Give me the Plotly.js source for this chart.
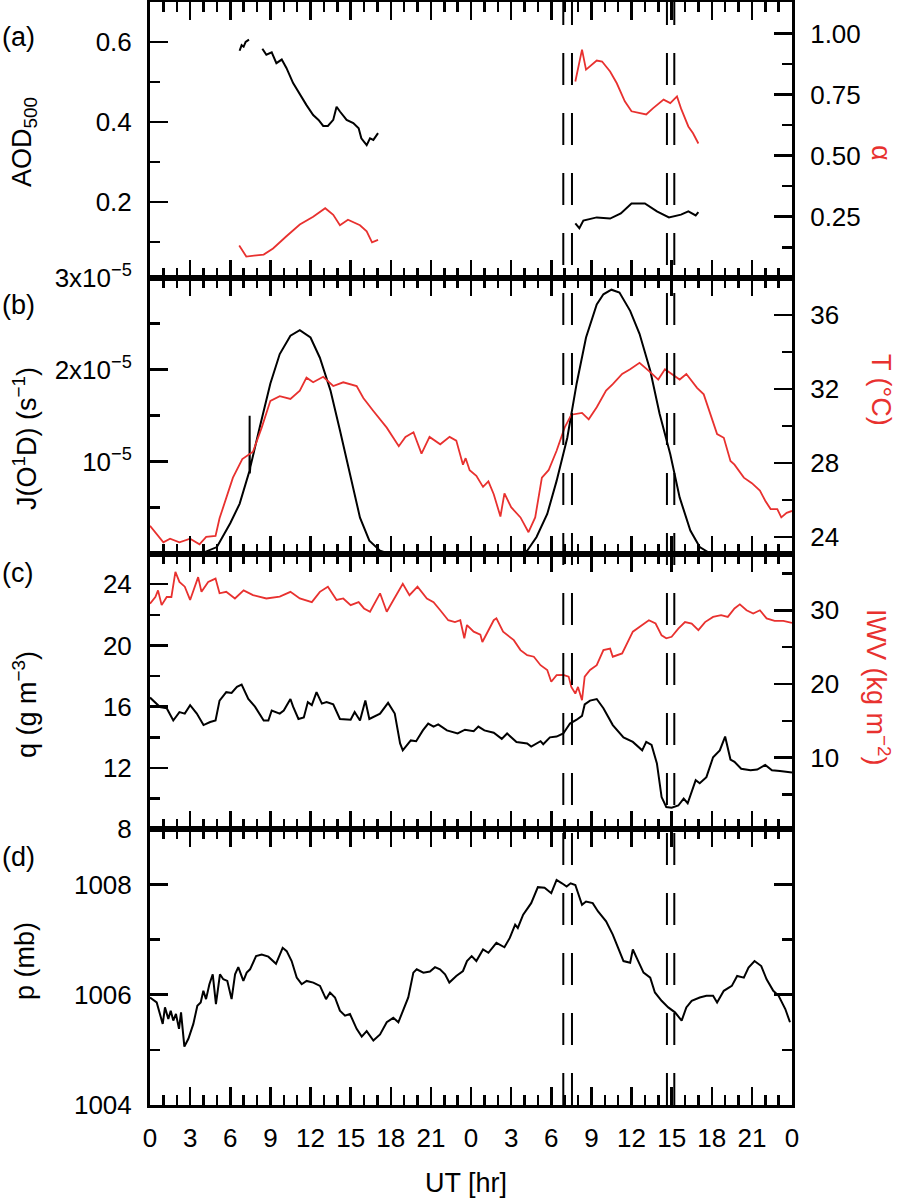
<!DOCTYPE html>
<html>
<head>
<meta charset="utf-8">
<script src="https://cdn.plot.ly/plotly-3.0.1.min.js"></script>
<style>
  html, body { margin: 0; padding: 0; background: #fff; }
  #chart { width: 897px; height: 1199px; }
</style>
</head>
<body>
<div id="chart"></div>
<script>
// ---- x axis: two days of UT hours ----
const hourTicks = [0, 3, 6, 9, 12, 15, 18, 21, 24, 27, 30, 33, 36, 39, 42, 45, 48];
const hourLabels = ['0', '3', '6', '9', '12', '15', '18', '21', '0', '3', '6', '9', '12', '15', '18', '21', '0'];
const eventTimes = [30.9, 31.55, 38.65, 39.2];

// ---- (a) AOD500 and Angstrom exponent ----
const aodHrA = [6.7, 6.85, 7.0, 7.15, 7.4];
const aodA = [0.578, 0.592, 0.588, 0.6, 0.606];
const aodHrB = [8.4, 8.7, 9.1, 9.45, 9.85, 10.2, 10.7, 11.2, 11.7, 12.2, 12.6, 12.95, 13.3, 13.7, 13.95, 14.2, 14.7, 15.2, 15.6, 15.8, 16.2, 16.45, 16.7, 17.05];
const aodB = [0.583, 0.568, 0.574, 0.547, 0.556, 0.535, 0.497, 0.468, 0.442, 0.417, 0.405, 0.39, 0.39, 0.405, 0.438, 0.426, 0.405, 0.397, 0.384, 0.359, 0.342, 0.359, 0.355, 0.372];
const aodHrC = [31.8, 32.1, 32.4, 33.4, 34.4, 35.2, 36.0, 37.0, 37.9, 38.8, 39.7, 40.25, 40.8, 41.0];
const aodC = [0.146, 0.134, 0.153, 0.161, 0.158, 0.171, 0.196, 0.196, 0.176, 0.161, 0.168, 0.176, 0.166, 0.174];

const alphaHrA = [6.67, 7.2, 8.5, 9.2, 10.2, 11.2, 12.2, 13.1, 13.7, 14.2, 14.8, 15.7, 16.2, 16.6, 17.05];
const alphaA = [0.132, 0.087, 0.095, 0.12, 0.17, 0.218, 0.25, 0.285, 0.258, 0.215, 0.238, 0.215, 0.19, 0.145, 0.155];
const alphaHrB = [31.8, 32.3, 32.6, 33.4, 33.8, 34.4, 34.9, 35.5, 36.0, 37.1, 37.6, 38.4, 38.9, 39.4, 39.7, 40.25, 40.6, 41.0];
const alphaB = [0.804, 0.935, 0.853, 0.89, 0.886, 0.845, 0.797, 0.723, 0.682, 0.669, 0.694, 0.73, 0.716, 0.743, 0.694, 0.62, 0.592, 0.55];

// ---- (b) J(O1D) in units of 1e-5 s-1, and temperature ----
const jHrA = [3.0, 4.0, 5.0, 6.0, 6.7, 7.44, 7.45, 7.46, 7.5, 8.2, 9.0, 9.7, 10.5, 11.2, 12.0, 12.7, 13.5, 14.2, 15.0, 15.7, 16.4, 17.2, 17.8, 18.5];
const jA = [0, 0.01, 0.07, 0.33, 0.54, 0.9, 1.5, 0.87, 0.94, 1.37, 1.85, 2.17, 2.37, 2.43, 2.35, 2.13, 1.77, 1.34, 0.83, 0.39, 0.14, 0.03, 0, 0];
const jHrB = [27.5, 28.2, 28.9, 29.7, 30.4, 31.2, 31.9, 32.6, 33.4, 33.9, 34.5, 35.1, 35.9, 36.6, 37.4, 38.1, 38.9, 39.6, 40.4, 41.1, 41.9, 42.5];
const jB = [0, 0.03, 0.18, 0.43, 0.79, 1.26, 1.85, 2.35, 2.71, 2.82, 2.87, 2.84, 2.64, 2.39, 1.99, 1.52, 1.08, 0.61, 0.25, 0.07, 0, 0];

const tempHr = [0, 1.0, 1.5, 2.2, 3.0, 3.7, 4.2, 4.9, 5.2, 5.7, 6.2, 6.9, 7.7, 8.35, 9.0, 9.7, 10.5, 11.2, 11.7, 12.2, 12.95, 13.7, 14.45, 15.45, 15.95, 16.7, 17.7, 18.6, 19.1, 19.7, 20.3, 20.9, 21.7, 22.4,
  22.9, 23.4, 23.6, 23.9, 24.4, 24.9, 25.3, 25.7, 26.2, 26.5, 27.0, 27.7, 28.3, 28.8, 29.3, 29.8, 30.4, 31.0, 31.5, 32.3, 32.8, 33.4, 34.1, 34.6, 35.3, 35.9, 36.6, 37.4, 38.0, 38.5, 39.0, 39.6, 40.1, 40.9, 41.4, 42.0, 42.4, 42.9, 43.4, 43.7, 44.4, 45.0, 45.6, 46.0, 46.4, 46.9, 47.2, 47.6, 48.0];
const temp = [24.6, 23.7, 23.9, 23.7, 23.9, 23.6, 24.0, 24.05, 25.0, 26.1, 27.2, 28.2, 28.6, 29.9, 31.35, 31.6, 31.45, 31.9, 32.6, 32.35, 32.65, 32.15, 32.35, 32.15, 31.5, 30.8, 29.9, 28.9, 29.4, 29.65, 28.5, 29.4, 29.0, 29.4,
  29.2, 27.9, 28.25, 27.6, 27.3, 26.7, 27.0, 26.3, 25.1, 26.35, 25.6, 25.05, 24.25, 25.05, 27.2, 27.6, 28.65, 29.9, 30.6, 30.7, 30.35, 31.0, 31.9, 32.25, 32.8, 33.05, 33.4, 32.9, 32.5, 33.05, 32.8, 32.5, 32.8, 32.05, 31.7, 30.45, 29.55, 29.35, 28.1, 27.9, 27.2, 26.9, 26.5, 25.95, 25.5, 25.5, 25.05, 25.3, 25.4];

// ---- (c) specific humidity and integrated water vapour ----
const qHr = [0, 0.75, 1.25, 1.74, 2.2, 2.6, 3.0, 3.5, 4.0, 4.5, 4.9, 5.2, 5.7, 6.1, 6.5, 6.85, 7.35, 7.85, 8.5, 8.85, 9.1, 9.7, 10.0, 10.5, 10.7, 11.1, 11.5, 11.8, 12.1, 12.45, 12.85, 13.2, 13.7, 14.2, 15.0, 15.3, 15.7, 16.1, 16.4, 17.2, 17.8, 18.3, 18.7, 18.9, 19.5, 19.9, 20.4, 20.8, 21.2, 21.55, 22.2,
  23.0, 23.55, 24.2, 24.55, 25.0, 25.7, 26.3, 26.7, 27.4, 28.2, 28.5, 29.2, 29.4, 29.9, 30.4, 30.9, 31.4, 31.9, 32.3, 32.5, 32.9, 33.4, 33.9, 34.6, 35.4, 36.1, 36.8, 37.1, 37.5, 37.9, 38.25, 38.6, 39.0, 39.5, 39.9, 40.2, 40.5, 40.8, 41.1, 41.6, 42.1, 42.6, 43.0, 43.4, 43.7, 44.2, 44.9, 45.4, 46.0, 46.5, 47.1, 48.0];
const q = [16.6, 15.98, 15.9, 15.1, 15.65, 15.55, 16.1, 15.55, 14.8, 15.0, 15.1, 16.4, 16.95, 16.9, 17.3, 17.45, 16.5, 16.0, 15.1, 15.1, 15.75, 15.55, 15.75, 16.5, 16.0, 15.2, 15.3, 16.3, 16.1, 16.95, 16.2, 16.3, 16.15, 15.2, 15.15, 15.65, 15.1, 16.4, 15.2, 15.55, 16.25, 15.55, 13.6, 13.15, 13.8, 13.75, 14.45, 14.9, 14.7, 14.85, 14.45,
  14.25, 14.5, 14.4, 14.7, 14.45, 14.3, 13.9, 14.25, 13.7, 13.6, 13.4, 13.75, 13.55, 14.0, 14.05, 14.25, 14.9, 15.15, 15.4, 16.15, 16.4, 16.5, 15.9, 14.8, 14.0, 13.7, 13.15, 13.7, 13.5, 12.3, 10.1, 9.45, 9.4, 9.55, 10.0, 9.7, 10.45, 11.2, 11.0, 11.4, 12.7, 13.15, 14.05, 12.55, 12.4, 11.95, 11.85, 11.9, 12.2, 11.85, 11.8, 11.7];

const iwvHr = [0, 0.4, 0.6, 0.87, 1.25, 1.6, 1.9, 2.2, 2.6, 3.0, 3.6, 3.85, 4.35, 4.9, 5.2, 5.7, 6.35, 7.0, 7.7, 8.7, 9.7, 10.5, 11.2, 12.1, 12.7, 13.3, 13.95, 14.45, 15.0, 15.6, 16.0, 16.45, 17.2, 17.7, 18.2, 18.9, 19.4, 20.0, 20.7, 21.2, 21.7, 22.3,
  22.8, 23.2, 23.5, 23.7, 24.2, 24.7, 24.85, 25.3, 25.7, 25.9, 26.4, 27.2, 27.7, 28.2, 28.7, 29.2, 29.7, 30.0, 30.4, 30.9, 31.3, 31.5, 31.8, 32.0, 32.3, 32.5, 32.9, 33.4, 33.9, 34.4, 34.6, 35.3, 35.6, 36.1, 36.8, 37.3, 37.8, 38.25, 38.6, 39.0, 39.5, 40.0, 40.5, 41.0, 41.5, 42.1, 42.7, 43.2, 43.7, 44.1, 44.6, 45.1, 45.6, 46.1, 46.7, 47.35, 48.0];
const iwv = [30.9, 31.8, 32.7, 30.7, 31.8, 31.8, 35.2, 33.85, 33.2, 31.4, 34.5, 32.5, 33.85, 34.3, 32.3, 32.5, 31.6, 32.7, 32.05, 31.6, 31.85, 32.5, 31.6, 31.1, 32.5, 33.2, 31.4, 31.6, 30.7, 31.1, 30.25, 29.8, 32.3, 29.8, 31.4, 33.6, 32.05, 33.2, 31.6, 31.1, 30.0, 28.65,
  28.4, 28.65, 26.2, 28.0, 27.1, 26.7, 25.7, 27.3, 28.65, 28.9, 27.1, 25.95, 24.6, 23.9, 23.7, 22.55, 21.9, 20.3, 21.2, 21.25, 21.0, 19.6, 18.7, 19.6, 17.8, 21.0, 21.9, 22.55, 24.6, 24.8, 23.7, 24.15, 25.3, 27.1, 28.0, 28.65, 28.2, 26.6, 26.2, 26.4, 27.5, 28.4, 28.2, 27.3, 28.4, 29.1, 29.35, 29.1, 30.25, 30.8, 30.0, 29.55, 30.0, 28.9, 28.55, 28.55, 28.3];

// ---- (d) surface pressure ----
const presHr = [0, 0.5, 0.95, 1.12, 1.37, 1.55, 1.74, 1.94, 2.17, 2.32, 2.57, 2.87, 3.24, 3.54, 3.79, 3.99, 4.19, 4.44, 4.69, 4.93, 5.23, 5.48, 5.78, 6.1, 6.36, 6.6, 6.98, 7.23, 7.48, 7.93, 8.35, 8.85, 9.42, 9.92, 10.22, 10.59, 10.97, 11.34, 11.71, 12.21, 12.71, 13.16, 13.46, 13.83, 14.2, 14.58, 14.95, 15.45, 15.83, 16.2, 16.7, 17.2, 17.7, 18.19, 18.57, 18.94, 19.31, 19.69, 19.94, 20.44, 20.93, 21.31, 21.68, 22.06, 22.38,
  22.9, 23.4, 23.7, 24.05, 24.4, 24.9, 25.3, 25.9, 26.5, 26.9, 27.3, 27.5, 27.9, 28.5, 29.0, 29.5, 30.0, 30.4, 30.8, 31.15, 31.45, 31.8, 32.3, 32.6, 33.1, 33.5, 34.1, 34.6, 35.0, 35.4, 35.9, 36.1, 36.5, 36.9, 37.4, 37.75, 38.25, 38.75, 39.25, 39.75, 40.1, 40.5, 41.1, 41.6, 42.1, 42.4, 42.9, 43.5, 43.9, 44.4, 44.75, 45.2, 45.7, 46.1, 46.6, 47.0, 47.5, 47.85];
const pres = [1005.95, 1005.86, 1005.47, 1005.77, 1005.56, 1005.71, 1005.53, 1005.65, 1005.38, 1005.68, 1005.06, 1005.2, 1005.47, 1005.8, 1005.86, 1006.07, 1005.92, 1006.19, 1006.37, 1005.83, 1006.37, 1006.28, 1006.25, 1005.92, 1006.37, 1006.5, 1006.25, 1006.4, 1006.46, 1006.7, 1006.73, 1006.69, 1006.56, 1006.85, 1006.79, 1006.61, 1006.31, 1006.19, 1006.25, 1006.22, 1006.16, 1005.92, 1006.04, 1005.95, 1005.71, 1005.62, 1005.65, 1005.38, 1005.24, 1005.34, 1005.17, 1005.28, 1005.5, 1005.58, 1005.5, 1005.71, 1005.95, 1006.4, 1006.46, 1006.4, 1006.42, 1006.5, 1006.46, 1006.37, 1006.22,
  1006.34, 1006.43, 1006.61, 1006.7, 1006.61, 1006.82, 1006.76, 1006.94, 1006.86, 1007.03, 1007.27, 1007.21, 1007.45, 1007.66, 1007.95, 1007.94, 1007.84, 1008.08, 1008.02, 1007.96, 1008.02, 1007.99, 1007.63, 1007.69, 1007.66, 1007.51, 1007.33, 1007.09, 1006.85, 1006.61, 1006.58, 1006.82, 1006.61, 1006.4, 1006.31, 1006.04, 1005.89, 1005.77, 1005.68, 1005.53, 1005.77, 1005.89, 1005.95, 1005.98, 1005.98, 1005.86, 1006.07, 1006.16, 1006.34, 1006.31, 1006.49, 1006.61, 1006.52, 1006.28, 1006.07, 1005.98, 1005.74, 1005.5];

// ---------------------------------------------------------
const RED = '#e8312f';
const FONT = 'Liberation Sans, Arial, Helvetica, sans-serif';
const W = 897, H = 1199;
const M = { l: 150, r: 105, t: 2, b: 94 };

// pixel -> paper helpers for text placement
function px(x) { return (x - M.l) / (W - M.l - M.r); }
function py(y) { return (H - M.b - y) / (H - M.t - M.b); }

function line(x, y, xa, ya, color, width) {
  return { x, y, xaxis: xa, yaxis: ya, mode: 'lines', line: { color, width },
           showlegend: false, hoverinfo: 'skip' };
}

const tickStyle = { ticks: 'inside', ticklen: 18, tickwidth: 2.5, tickcolor: '#000' };
const minorStyle = { ticks: 'inside', ticklen: 10, tickwidth: 2.5, tickcolor: '#000' };

function xAxis(i) {
  const ax = Object.assign({
    anchor: 'y' + (i === 1 ? '' : i), domain: [0, 1], range: [0, 48],
    tickmode: 'array', tickvals: hourTicks, ticktext: hourLabels,
    showticklabels: i === 4, ticklabelstandoff: 8,
    minor: Object.assign({ tickmode: 'linear', tick0: 0, dtick: 1 }, minorStyle),
    showline: true, linewidth: 3, linecolor: '#000', mirror: 'ticks',
    showgrid: false, zeroline: false, fixedrange: true
  }, tickStyle);
  if (i > 1) ax.matches = 'x';
  return ax;
}

function yAxis(i, range, vals, text, minorVals, fmt, side) {
  const ax = Object.assign({
    anchor: 'x' + (i === 1 ? '' : i), range,
    tickmode: 'array', tickvals: vals, ticklabelstandoff: 10,
    minor: Object.assign({ tickmode: 'array', tickvals: minorVals }, minorStyle),
    showline: true, linewidth: 3, linecolor: '#000',
    showgrid: false, zeroline: false, fixedrange: true
  }, tickStyle);
  if (text) ax.ticktext = text;
  if (fmt) ax.tickformat = fmt;
  if (side === 'right') {
    ax.side = 'right';
    ax.overlaying = 'y' + (i === 1 ? '' : i);
  } else {
    ax.domain = [1 - i * 0.25, 1 - (i - 1) * 0.25];
  }
  return ax;
}

const traces = [
  line(aodHrA, aodA, 'x', 'y', '#000', 2),
  line(aodHrB, aodB, 'x', 'y', '#000', 2),
  line(aodHrC, aodC, 'x', 'y', '#000', 2),
  line(alphaHrA, alphaA, 'x', 'y5', RED, 1.8),
  line(alphaHrB, alphaB, 'x', 'y5', RED, 1.8),
  line(tempHr, temp, 'x2', 'y6', RED, 1.8),
  line(jHrA, jA, 'x2', 'y2', '#000', 2),
  line(jHrB, jB, 'x2', 'y2', '#000', 2),
  line(iwvHr, iwv, 'x3', 'y7', RED, 1.8),
  line(qHr, q, 'x3', 'y3', '#000', 2),
  line(presHr, pres, 'x4', 'y4', '#000', 2)
];

const shapes = eventTimes.map(t => ({
  type: 'line', xref: 'x', yref: 'paper', x0: t, x1: t, y0: 0, y1: 1,
  line: { color: '#000', width: 2, dash: '32px,28px' }
}));

function note(text, x, y, opts) {
  return Object.assign({ text, xref: 'paper', yref: 'paper', x: px(x), y: py(y),
    xanchor: 'center', yanchor: 'middle', showarrow: false,
    font: { family: FONT, size: 27, color: '#000' } }, opts || {});
}

const annotations = [
  note('(a)', 0, 37, { xanchor: 'left' }),
  note('(b)', 0, 305, { xanchor: 'left' }),
  note('(c)', 0, 573, { xanchor: 'left' }),
  note('(d)', 0, 857, { xanchor: 'left' }),
  note('AOD<sub>500</sub>', 24, 142, { textangle: -90 }),
  note('J(O<sup>1</sup>D) (s<sup>−1</sup>)', 25, 439, { textangle: -90 }),
  note('q (g m<sup>−3</sup>)', 25, 705, { textangle: -90 }),
  note('p (mb)', 25, 961, { textangle: -90 }),
  note('α', 881, 153, { textangle: 90, font: { family: FONT, size: 27, color: RED } }),
  note('T (°C)', 881, 390, { textangle: 90, font: { family: FONT, size: 27, color: RED } }),
  note('IWV (kg m<sup>−2</sup>)', 878, 688, { textangle: 90, font: { family: FONT, size: 27, color: RED } }),
  note('UT [hr]', 466, 1183)
];

const layout = {
  width: W, height: H, margin: M,
  paper_bgcolor: '#fff', plot_bgcolor: 'rgba(0,0,0,0)',
  font: { family: FONT, size: 26, color: '#000' },
  showlegend: false,
  xaxis: xAxis(1), xaxis2: xAxis(2), xaxis3: xAxis(3), xaxis4: xAxis(4),
  yaxis: yAxis(1, [0.01, 0.70], [0.2, 0.4, 0.6], null, [0.1, 0.3, 0.5], '.1f'),
  yaxis2: yAxis(2, [0, 3], [1, 2, 3], ['10<sup>−5</sup>', '2x10<sup>−5</sup>', '3x10<sup>−5</sup>'], [0.5, 1.5, 2.5]),
  yaxis3: yAxis(3, [8, 26], [8, 12, 16, 20, 24], null, [10, 14, 18, 22]),
  yaxis4: Object.assign(yAxis(4, [1004, 1009], [1004, 1006, 1008], null, [1005, 1007]), { mirror: 'ticks' }),
  yaxis5: yAxis(1, [0, 1.13], [0.25, 0.5, 0.75, 1.0], null, [0.125, 0.375, 0.625, 0.875], '.2f', 'right'),
  yaxis6: yAxis(2, [23.1, 38], [24, 28, 32, 36], null, [26, 30, 34], null, 'right'),
  yaxis7: yAxis(3, [0.3, 37.7], [10, 20, 30], null, [5, 15, 25, 35], null, 'right'),
  shapes, annotations
};

Plotly.newPlot('chart', traces, layout, { displayModeBar: false, staticPlot: true });
</script>
</body>
</html>
